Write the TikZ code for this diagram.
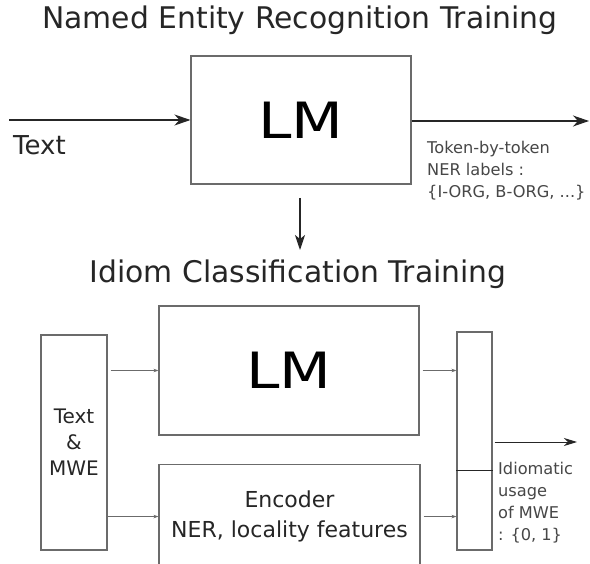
\documentclass[tikz,border=0pt]{standalone}
\usepackage{fontspec}
\setmainfont{DejaVu Sans}
\newfontfamily\bigfont[FakeStretch=1.2]{DejaVu Sans}
\usetikzlibrary{arrows.meta}
\definecolor{boxline}{HTML}{6B6B6B}
\definecolor{labelgray}{HTML}{474747}
\definecolor{inkdark}{HTML}{262626}

\begin{document}
\begin{tikzpicture}[x=1pt,y=-1pt,
  box/.style={draw=boxline, line width=1.1pt, rectangle, inner sep=0pt},
  bigarrow/.style={-{Stealth[length=16pt,width=11pt,inset=5pt]}, line width=1.1pt, draw=inkdark},
  smallarrow/.style={-{Stealth[length=5pt,width=3.5pt]}, line width=0.7pt, draw=boxline},
  title/.style={font=\fontsize{29.8}{34}\selectfont, text=inkdark, anchor=base, inner sep=0pt},
  note/.style={font=\fontsize{16.2}{22}\selectfont, text=labelgray, align=left, anchor=north west, inner sep=0pt},
  lmtext/.style={font=\bigfont\fontsize{50}{60}\selectfont},
]
\path[fill=white] (0,0) rectangle (590,564);
\useasboundingbox (0,0) rectangle (590,564);
\clip (0,0) rectangle (590,564);

\node[title] (nertitle) at (300,29) {Named Entity Recognition Training};
\node[box, lmtext, minimum width=220pt, minimum height=128pt] (lmtop) at (301,120) {LM};
\coordinate (textin) at (9,120);
\coordinate (nerout) at (589,121);
\draw[bigarrow] (textin) -- (lmtop.west);
\draw[bigarrow] (lmtop.east |- nerout) -- (nerout);
\node[anchor=base west, inner sep=0pt, text=inkdark, font=\fontsize{26}{30}\selectfont] (textlabel) at (13,155) {Text};
\node[note] (nerlabels) at (427,141) {Token-by-token\\NER labels :\\\{I-ORG, B-ORG, ...\}};

\coordinate (down1) at (300,198);
\coordinate (down2) at (300,250);
\draw[bigarrow, -{Stealth[length=15pt,width=10pt,inset=4pt]}] (down1) -- (down2);

\node[title] (idiomtitle) at (298,283) {Idiom Classification Training};
\node[box, align=center, minimum width=66pt, minimum height=215pt, text=inkdark,
  font=\fontsize{20}{26}\selectfont] (inbox) at (74,442.5) {Text\\\&\\MWE};
\node[box, lmtext, minimum width=260pt, minimum height=129pt] (lmlow) at (289,370.5) {LM};
\node[box, align=center, anchor=north, minimum width=261pt, minimum height=104pt, text=inkdark,
  font=\fontsize{22}{30}\selectfont] (encoder) at (289.5,464) {Encoder\\NER, locality features};
\node[box, minimum width=35pt, minimum height=218pt] (outbox) at (474.5,441) {};
\coordinate (split) at (474.5,471);
\draw[line width=1pt, inkdark] (split -| outbox.west) -- (split -| outbox.east);

\draw[smallarrow] ([xshift=3pt]inbox.east |- lmlow.west) -- (lmlow.west);
\draw[smallarrow] (inbox.east |- encoder.center) -- (encoder.center -| encoder.west);
\draw[smallarrow] ([xshift=3pt]lmlow.east) -- (lmlow.east -| outbox.west);
\draw[smallarrow] ([xshift=3pt]encoder.center -| encoder.east) -- (encoder.center -| outbox.west);

\coordinate (idiomout) at (577,442);
\draw[bigarrow, line width=0.9pt, -{Stealth[length=13pt,width=8pt,inset=4pt]}] ([xshift=2pt]outbox.east |- idiomout) -- (idiomout);
\node[note] (idiomlabel) at (498,462) {Idiomatic\\usage\\of MWE\\: \{0, 1\}};
\end{tikzpicture}
\end{document}
